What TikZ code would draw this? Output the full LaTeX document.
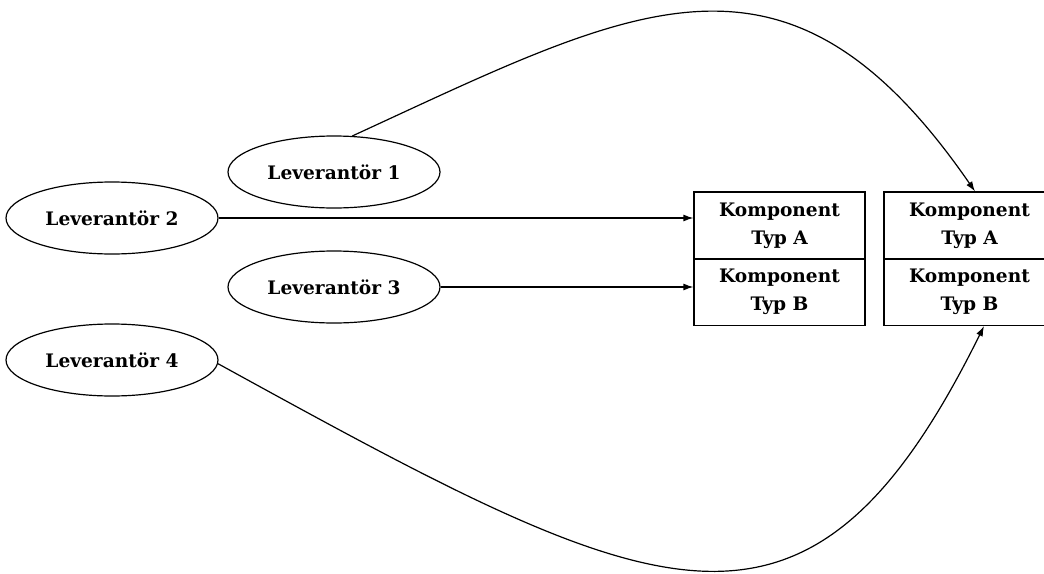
\documentclass[tikz,border=0pt]{standalone}
\usepackage{fontspec}
\setmainfont{DejaVu Serif}
\usetikzlibrary{shapes.geometric,arrows.meta}
\begin{document}
\begin{tikzpicture}[x=0.5pt,y=-0.5pt,
  lev/.style={ellipse,draw,line width=0.6pt,minimum width=106pt,minimum height=36pt,inner sep=0pt,font=\fontsize{9.3}{11}\selectfont\bfseries},
  part/.style={rectangle,draw,line width=0.6pt,minimum width=85.5pt,minimum height=33.5pt,inner sep=0pt,align=center,font=\fontsize{9.3}{14}\selectfont\bfseries},
  feed/.style={line width=0.6pt,-{Latex[length=5pt,width=3.5pt]}}]
\useasboundingbox (0,0) rectangle (1044,573);
\clip (0,0) rectangle (1044,573);
% suppliers
\node[lev] (l1) at (334,172) {Leverantör 1};
\node[lev] (l2) at (112,218) {Leverantör 2};
\node[lev] (l3) at (334,287) {Leverantör 3};
\node[lev] (l4) at (112,360) {Leverantör 4};
% component stacks
\node[part] (a1) at (779.5,225.5) {Komponent\\Typ A};
\node[part] (b1) at (779.5,292) {Komponent\\Typ B};
\node[part] (a2) at (969.5,225.5) {Komponent\\Typ A};
\node[part] (b2) at (969.5,292) {Komponent\\Typ B};
% deliveries
\draw[feed] (l2.east) -- (l2.east -| a1.west);
\draw[feed] (l3.east) -- (l3.east -| b1.west);
\draw[feed] (l1.63) .. controls (637,5) and (787,-81) .. ([xshift=2.75pt]a2.north);
\draw[feed] (l4.-2) .. controls (659,606) and (807,684) .. ([xshift=7.25pt]b2.south);
\end{tikzpicture}
\end{document}
